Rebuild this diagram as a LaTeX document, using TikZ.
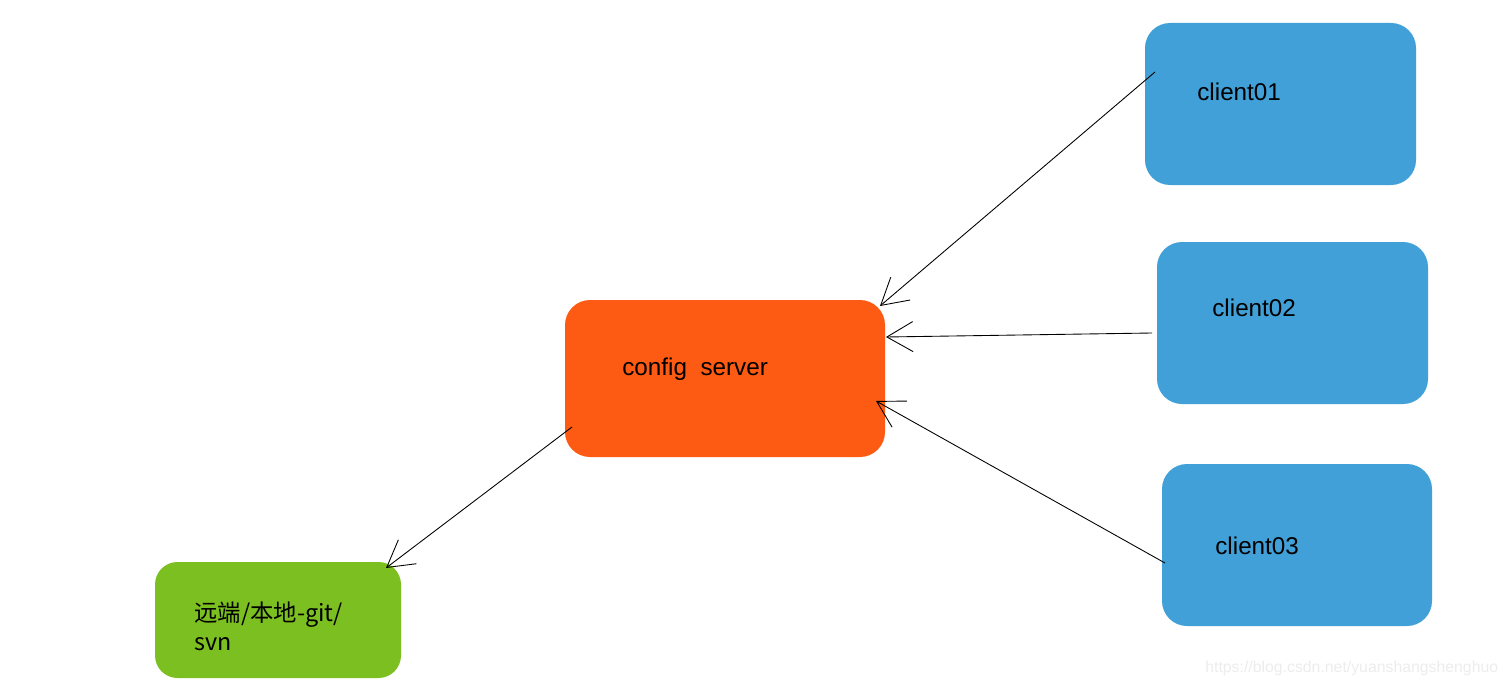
\documentclass[tikz,border=0pt]{standalone}
\usepackage{fontspec}
\setmainfont{Liberation Sans}
\newfontfamily\cjk{Noto Sans CJK SC}
\usepackage{tikz}
\usetikzlibrary{arrows.meta,calc,positioning}

\definecolor{clientblue}{RGB}{65,160,215}
\definecolor{serverorange}{RGB}{253,91,19}
\definecolor{repogreen}{RGB}{123,191,33}

\begin{document}
\begin{tikzpicture}

    \tikzstyle{box}=[draw=none,rounded corners=0.5cm,outer sep=0pt,inner sep=0pt]
    \tikzstyle{label}=[anchor=west,inner sep=0pt,font=\fontsize{13.8pt}{16.5pt}\selectfont]
    \tikzstyle{link}=[line width=0.5pt,-{Straight Barb[length=0.52cm,width=0.6cm]}]
    \useasboundingbox[fill=white] (0,0) rectangle (30.16,-13.8);
    \coordinate (origo) at (0,0);

\node (client01) [box,fill=clientblue,minimum width=5.42cm,minimum height=3.24cm,xshift=25.61cm,yshift=-2.08cm] at (origo) {};
\node (client02) [box,fill=clientblue,minimum width=5.42cm,minimum height=3.24cm,xshift=25.85cm,yshift=-6.46cm] at (origo) {};
\node (client03) [box,fill=clientblue,minimum width=5.40cm,minimum height=3.24cm,xshift=25.94cm,yshift=-10.90cm] at (origo) {};
\node (server) [box,fill=serverorange,minimum width=6.40cm,minimum height=3.14cm,xshift=14.50cm,yshift=-7.57cm] at (origo) {};
\node (repo) [box,fill=repogreen,rounded corners=0.45cm,minimum width=4.92cm,minimum height=2.32cm,xshift=5.56cm,yshift=-12.40cm] at (origo) {};

\node (client01_text) [label] at ([xshift=1.04cm,yshift=0.24cm]client01.west) {client01};
\node (client02_text) [label] at ([xshift=1.10cm,yshift=0.30cm]client02.west) {client02};
\node (client03_text) [label] at ([xshift=1.06cm,yshift=-0.02cm]client03.west) {client03};
\node (server_text) [label] at ([xshift=1.14cm,yshift=0.19cm]server.west) {config\ \ server};
\node (repo_text) [label,align=left,font=\cjk\fontsize{13.3pt}{16.5pt}\selectfont] at ([xshift=0.78cm,yshift=-0.13cm]repo.west) {远端/本地-git/\\svn};

\node (watermark) [anchor=west,inner sep=0pt,text=black!7,font=\fontsize{9pt}{10pt}\selectfont] at (24.10,-13.36) {https://blog.csdn.net/yuanshangshenghuo};

% connectors
\draw[link] ([xshift=0.20cm,yshift=-0.98cm]client01.north west) -- ([xshift=-0.10cm,yshift=-0.12cm]server.north east);
\draw[link] ([xshift=-0.10cm,yshift=-0.20cm]client02.west) -- ([xshift=0.02cm,yshift=-0.74cm]server.north east);
\draw[link] ([xshift=0.06cm,yshift=-0.36cm]client03.west) -- ([xshift=-0.18cm,yshift=-2.02cm]server.north east);
\draw[link] ([xshift=0.14cm,yshift=-0.97cm]server.west) -- ([xshift=-0.30cm,yshift=-0.12cm]repo.north east);

\end{tikzpicture}
\end{document}
